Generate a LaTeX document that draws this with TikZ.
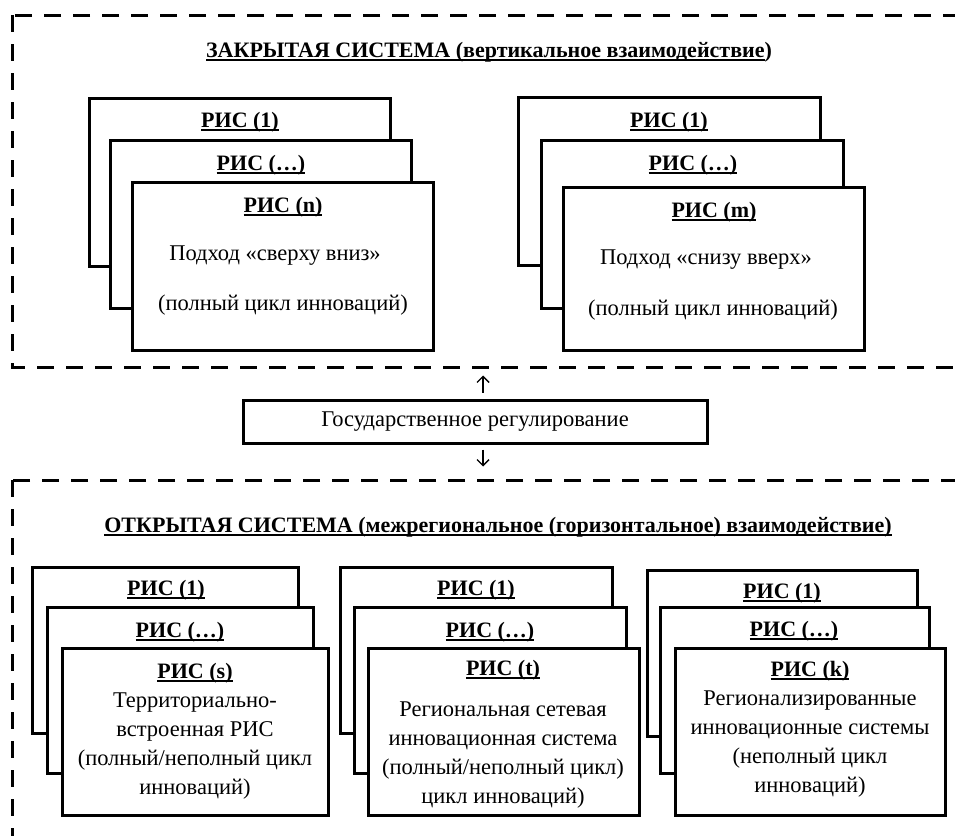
\documentclass[tikz,border=0pt]{standalone}
\usepackage{fontspec}
\setmainfont{Liberation Serif}
\usetikzlibrary{arrows.meta}

% underline with a thicker rule
\newcommand{\ulk}[1]{\setbox0\hbox{#1}\rlap{\rule[-3.8pt]{\wd0}{1.8pt}}\box0}

\tikzset{
  frame/.style={line width=3pt, dash pattern=on 17pt off 12pt},
  ris/.style={draw, line width=3pt, fill=white, inner sep=0pt},
  txt/.style={font=\fontsize{22.5}{29}\selectfont, align=center, inner sep=0pt},
  hd/.style={font=\fontsize{22}{29}\selectfont\bfseries, inner sep=0pt},
  arr/.style={line width=1.4pt, -{Straight Barb[length=6pt,width=12pt]}}
}

\begin{document}
\begin{tikzpicture}[x=1pt, y=-1pt]
	\useasboundingbox (0,0) rectangle (955,835);
	\clip (0,0) rectangle (955,835);

	% closed system
	\draw[frame] (12,15) rectangle (975,367);
	\node[hd] (closedtitle) at (489,52) {\ulk{ЗАКРЫТАЯ СИСТЕМА (вертикальное взаимодействие})};

	\node[ris, minimum width=301pt, minimum height=168pt] (n1) at (239.5,182) {};
	\node[ris, minimum width=301pt, minimum height=168pt] (n2) at (260.5,224.5) {};
	\node[ris, minimum width=301pt, minimum height=168pt] (n3) at (283,266.5) {};
	\node[hd] (n1t) at (240,122) {\ulk{РИС (1)}};
	\node[hd] (n2t) at (261,165) {\ulk{РИС (…)}};
	\node[hd] (n3t) at (283,207) {\ulk{РИС (n)}};
	\node[txt] (n3a) at (275,256) {Подход «сверху вниз»};
	\node[txt] (n3b) at (283,305) {(полный цикл инноваций)};

	\node[ris, minimum width=302pt, minimum height=168pt] (m1) at (669,181.5) {};
	\node[ris, minimum width=302pt, minimum height=168pt] (m2) at (692.5,224.5) {};
	\node[ris, minimum width=301pt, minimum height=163pt] (m3) at (713.5,269) {};
	\node[hd] (m1t) at (669,122) {\ulk{РИС (1)}};
	\node[hd] (m2t) at (693,165) {\ulk{РИС (…)}};
	\node[hd] (m3t) at (714,212) {\ulk{РИС (m)}};
	\node[txt] (m3a) at (706,260) {Подход «снизу вверх»};
	\node[txt] (m3b) at (713,310) {(полный цикл инноваций)};

	% state regulation
	\node[ris, txt, minimum width=464pt, minimum height=43pt] (gov) at (475,421.5) {Государственное регулирование};
	\draw[arr] ([xshift=8pt, yshift=6pt]gov.north) -- ++(0,-17);
	\draw[arr] ([xshift=8pt, yshift=-5pt]gov.south) -- ++(0,17);

	% open system
	\draw[frame] (12,480) rectangle (975,860);
	\node[hd] (opentitle) at (498,527) {\ulk{ОТКРЫТАЯ СИСТЕМА (межрегиональное (горизонтальное) взаимодействие)}};

	\node[ris, minimum width=266pt, minimum height=166pt] (s1) at (165,650) {};
	\node[ris, minimum width=266pt, minimum height=166pt] (s2) at (180,690.5) {};
	\node[ris, minimum width=266pt, minimum height=167pt] (s3) at (195,732) {};
	\node[hd] (s1t) at (166,590) {\ulk{РИС (1)}};
	\node[hd] (s2t) at (180,632) {\ulk{РИС (…)}};
	\node[hd] (s3t) at (195,673) {\ulk{РИС (s)}};
	\node[txt] (s3a) at (195,746) {Территориально-\\встроенная РИС\\(полный/неполный цикл\\инноваций)};

	\node[ris, minimum width=272pt, minimum height=166pt] (t1) at (476,650) {};
	\node[ris, minimum width=272pt, minimum height=166pt] (t2) at (490.5,690.5) {};
	\node[ris, minimum width=271pt, minimum height=167pt] (t3) at (503.5,732) {};
	\node[hd] (t1t) at (476,590) {\ulk{РИС (1)}};
	\node[hd] (t2t) at (490,632) {\ulk{РИС (…)}};
	\node[hd] (t3t) at (503,670) {\ulk{РИС (t)}};
	\node[txt] (t3a) at (503,755.5) {Региональная сетевая\\инновационная система\\(полный/неполный цикл)\\цикл инноваций)};

	\node[ris, minimum width=270pt, minimum height=166pt] (k1) at (782,653) {};
	\node[ris, minimum width=269pt, minimum height=166pt] (k2) at (794.5,690) {};
	\node[ris, minimum width=270pt, minimum height=167pt] (k3) at (810,731.5) {};
	\node[hd] (k1t) at (782,593) {\ulk{РИС (1)}};
	\node[hd] (k2t) at (794,631) {\ulk{РИС (…)}};
	\node[hd] (k3t) at (810,671) {\ulk{РИС (k)}};
	\node[txt] (k3a) at (810,744.5) {Регионализированные\\инновационные системы\\(неполный цикл\\инноваций)};
\end{tikzpicture}
\end{document}
